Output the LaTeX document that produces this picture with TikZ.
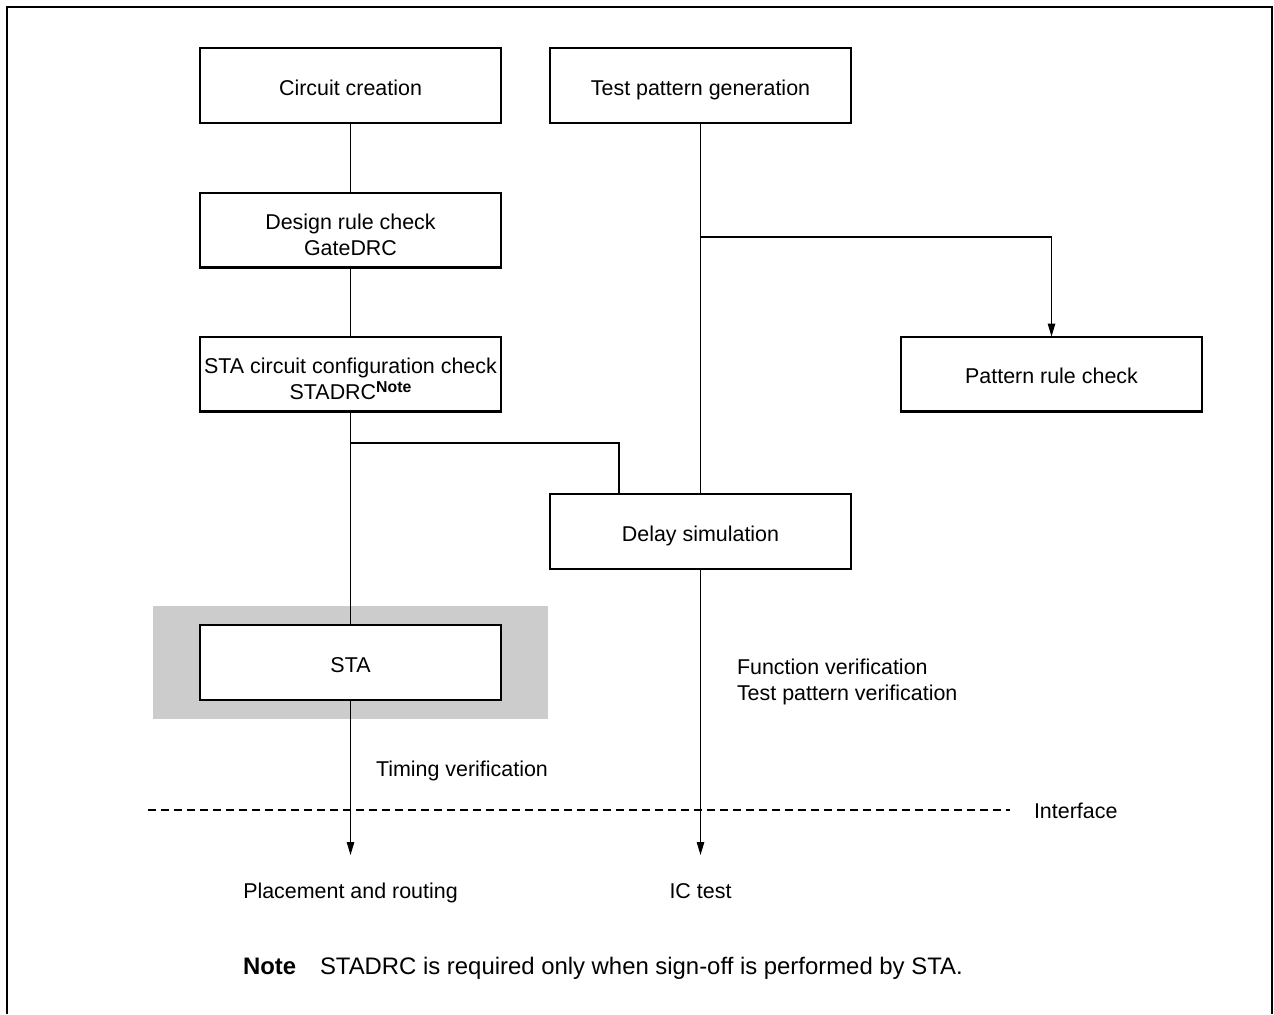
\documentclass[tikz,border=0pt]{standalone}
\usepackage{fontspec}
\setmainfont{Liberation Sans}
\usetikzlibrary{arrows.meta}
\definecolor{shadegray}{HTML}{CCCCCC}
\newcommand{\notemark}{\raisebox{3.6pt}{\fontsize{9}{10}\selectfont\bfseries Note}}
\begin{document}
\begin{tikzpicture}[x=0.02cm,y=-0.02cm,
  font=\fontsize{12.2}{14.8}\selectfont,
  flowbox/.style={draw,line width=1.15pt,fill=white,minimum width=6.04cm,minimum height=1.5cm,
    inner sep=0pt,outer sep=0pt,align=center,text height=11pt,text depth=0pt},
  twoline/.style={text height=28.7pt,text depth=0pt},
  link/.style={line width=0.6pt},
  arrowlink/.style={line width=0.6pt,-{Triangle[length=0.26cm,width=0.15cm]}},
  label/.style={inner sep=0pt,outer sep=0pt,text height=8.7pt,text depth=0pt}]
\useasboundingbox (0,0) rectangle (1274,1014);

% page frame (open at the bottom)
\draw[line width=1.15pt] (7,1014) -- (7,7) -- (1272,7) -- (1272,1014);

% shaded area behind STA
\fill[shadegray] (153,606) rectangle (548,719);

% process boxes
\node[flowbox] (cc)     at (350.5,85.5)  {Circuit creation};
\node[flowbox] (tpg)    at (700.5,85.5)  {Test pattern generation};
\node[flowbox,twoline] (drc)    at (350.5,230)   {Design rule check\\GateDRC};
\node[flowbox,twoline] (stadrc) at (350.5,374)   {STA circuit configuration check\\STADRC\notemark};
\node[flowbox] (prc)    at (1051.5,374)  {Pattern rule check};
\node[flowbox] (delay)  at (700.5,531.5) {Delay simulation};
\node[flowbox] (sta)    at (350.5,662.5) {STA};

% junctions and free ends
\coordinate (jl)  at (350.5,443);
\coordinate (jr)  at (700.5,237);
\coordinate (dj)  at (619,494.5);
\coordinate (pr)  at (350.5,855);
\coordinate (ic)  at (700.5,855);

% left column
\draw[link] (cc.south) -- (drc.north);
\draw[link] (drc.south) -- (stadrc.north);
\draw[link] (stadrc.south) -- (sta.north);
\draw[link] (jl) -| (dj);
\draw[arrowlink] (sta.south) -- (pr);

% right column
\draw[link] (tpg.south) -- (delay.north);
\draw[arrowlink] (jr) -| (prc.north);
\draw[arrowlink] (delay.south) -- (ic);

% interface line
\coordinate (ifl) at (148,810);
\coordinate (ifr) at (1010,810);
\draw[line width=0.9pt,dash pattern=on 0.16cm off 0.1cm] (ifl) -- (ifr);
\node[label,anchor=west] (iface) at (1034,811) {Interface};

% annotations
\node[label,anchor=west] (timing) at (376,769) {Timing verification};
\node[label,anchor=west,align=left,text height=23.5pt] (funcv) at (737,679.5) {Function verification\\Test pattern verification};
\node[label] (place) at (350.5,891) {Placement and routing};
\node[label] (ictest) at (700.5,891) {IC test};

% footnote
\node[label,anchor=west,font=\fontsize{13.6}{16}\selectfont,text height=9.7pt] (notekey) at (243,966) {\textbf{Note}};
\node[label,anchor=west,font=\fontsize{13.6}{16}\selectfont,text height=9.7pt] (notetext) at (320,966) {STADRC is required only when sign-off is performed by STA.};
\end{tikzpicture}
\end{document}
